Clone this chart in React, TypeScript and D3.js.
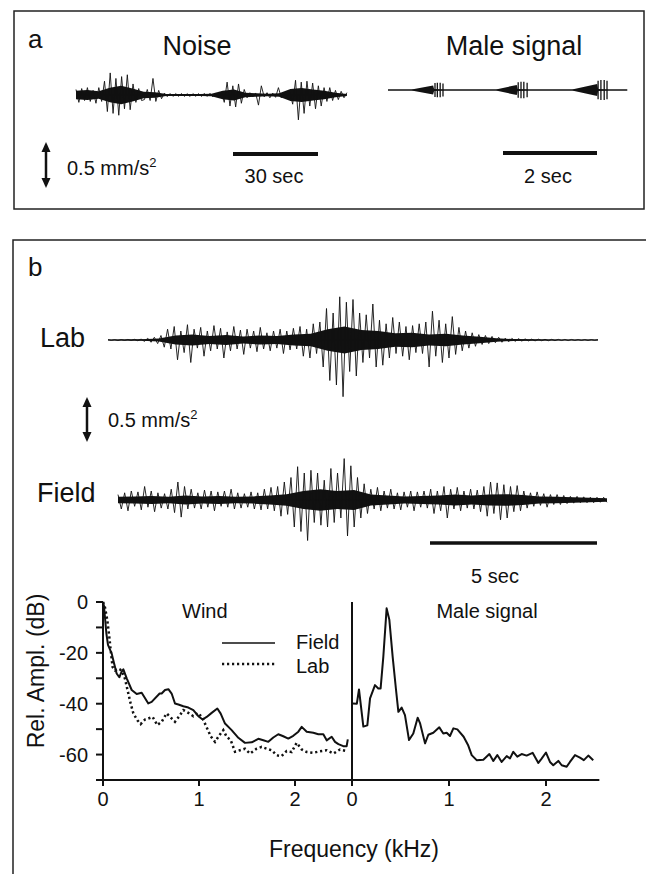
import React from "react";
import * as d3 from "d3";

const FONT = "'Liberation Sans', Arial, Helvetica, sans-serif";
const INK = "#111";

// ---------- Panel a: wind noise trace (mm/s^2, signed peaks, evenly spaced over duration) ----------
const noiseDuration = 95.6; // s
const noisePeaks = [
  0.06, -0.08, 0.07, -0.06, 0.08, -0.07, 0.05, -0.09, 0.08, -0.07,
  0.15, -0.18, 0.24, -0.2, 0.18, -0.22, 0.2, -0.15, 0.22, -0.16, 0.12,
  -0.08, 0.07, -0.06,
  -0.05, 0.06, -0.06, 0.18, -0.07, 0.05, -0.04,
  0.02, -0.018, 0.016, -0.015, 0.015, -0.014, 0.016, -0.015, 0.014, -0.016, 0.015, -0.014, 0.015, -0.016, 0.017, -0.015, 0.018, -0.02, 0.022, -0.025, 0.03,
  -0.08, 0.14, -0.12, 0.1, -0.13, 0.12, -0.09, 0.06,
  -0.03, 0.025, -0.02, 0.022, -0.11, 0.1, -0.02, 0.025, -0.03, 0.02, -0.025, 0.08, -0.03, 0.02, -0.025, 0.03,
  -0.1, 0.16, -0.27, 0.14, -0.2, 0.15, -0.12, 0.13, -0.15, 0.1, -0.12,
  0.08, -0.07, 0.08, -0.06, 0.05, -0.05, 0.04, -0.03, 0.025,
];
const noiseCore = [
  0.045, 0.055, 0.04, 0.08, 0.1, 0.07, 0.035, 0.03, 0.012, 0.01, 0.011, 0.01, 0.013,
  0.045, 0.06, 0.025, 0.018, 0.013, 0.02, 0.065, 0.075, 0.06, 0.045, 0.025, 0.012,
];

// ---------- Panel a: male signal (time s, half-amplitude mm/s^2) ----------
const maleDuration = 5.09;
const maleEnvelope: [number, number][] = [
  [0, 0.005], [0.5, 0.005], [0.53, 0.008], [0.96, 0.05], [0.98, 0.01], [1.2, 0.005],
  [2.3, 0.005], [2.32, 0.008], [2.74, 0.055], [2.76, 0.01], [3.0, 0.005],
  [3.92, 0.005], [3.94, 0.008], [4.45, 0.065], [4.47, 0.01], [4.7, 0.005], [5.09, 0.005],
];
const malePulses: [number, number][] = [
  [1.0, 0.075], [1.05, 0.08], [1.11, 0.08], [1.17, 0.07],
  [2.77, 0.085], [2.83, 0.09], [2.89, 0.09], [2.96, 0.08],
  [4.47, 0.1], [4.53, 0.11], [4.6, 0.11], [4.66, 0.1],
];

// ---------- Panel b: Lab and Field wind traces ----------
const labDuration = 14.67;
const labPeaks = [
  0.005, -0.005, 0.004, -0.006, 0.005, -0.005, 0.006, -0.005, 0.007, -0.008, 0.01,
  -0.015, 0.02, -0.025, 0.03, -0.04, 0.05,
  -0.08, 0.12, -0.1, 0.15, -0.22, 0.1, -0.14, 0.17, -0.25, 0.12, -0.09, 0.14, -0.18, 0.1, -0.12, 0.16,
  -0.1, 0.13, -0.2, 0.09, -0.12, 0.15, -0.1, 0.11, -0.16, 0.12, -0.09, 0.1, -0.13, 0.14, -0.1, 0.08,
  -0.12, 0.1, -0.09, 0.12, -0.15, 0.1, -0.11, 0.13, -0.1, 0.15, -0.18, 0.12, -0.2, 0.18, -0.15, 0.2,
  -0.3, 0.35, -0.45, 0.3, -0.5, 0.48, -0.63, 0.42, -0.35, 0.45, -0.4, 0.3,
  -0.25, 0.28, -0.2, 0.4, -0.3, 0.22, -0.28, 0.18, -0.2, 0.25, -0.15, 0.2, -0.18, 0.15, -0.22, 0.16, -0.14, 0.18,
  -0.15, 0.2, -0.3, 0.32, -0.18, 0.22, -0.25, 0.18, -0.2, 0.26, -0.16, 0.14,
  -0.12, 0.1, -0.09, 0.08, -0.07, 0.06, -0.05, 0.05, -0.04, 0.04, -0.03, 0.03,
  -0.025, 0.02, -0.02, 0.018, -0.015, 0.015, -0.012, 0.012, -0.01, 0.01, -0.01, 0.009, -0.008, 0.008, -0.008,
  0.007, -0.007, 0.007, -0.006, 0.006, -0.006, 0.006, -0.005, 0.005, -0.005, 0.005, -0.005, 0.005, -0.004, 0.004,
];
const labCore = [
  0.004, 0.005, 0.007, 0.018, 0.05, 0.06, 0.045, 0.055, 0.04, 0.05, 0.045, 0.06, 0.07, 0.12, 0.15,
  0.11, 0.1, 0.075, 0.08, 0.06, 0.07, 0.05, 0.035, 0.02, 0.01, 0.007, 0.005, 0.004, 0.004, 0.003,
];
const fieldDuration = 14.64;
const fieldPeaks = [
  0.06, -0.1, 0.08, -0.12, 0.1, -0.07, 0.09, -0.11, 0.15, -0.08, 0.1, -0.13, 0.08, -0.09, 0.07, -0.1,
  0.12, -0.14, 0.2, -0.19, 0.15, -0.1, 0.12, -0.09, 0.08, -0.1, 0.11, -0.08, 0.1, -0.12, 0.09, -0.07,
  0.1, -0.08, 0.12, -0.1, 0.08, -0.09, 0.07, -0.08, 0.09, -0.1, 0.08, -0.11, 0.12, -0.1, 0.14, -0.12,
  0.15, -0.18, 0.2, -0.16,
  0.25, -0.3, 0.37, -0.35, 0.3, -0.45, 0.33, -0.25, 0.3,
  -0.28, 0.22, -0.3, 0.35, -0.25, 0.3, -0.2, 0.46, -0.4, 0.38, -0.3, 0.25, -0.2, 0.18, -0.15,
  0.12, -0.1, 0.14, -0.12, 0.1, -0.09, 0.12, -0.1, 0.08, -0.11, 0.09, -0.08, 0.1, -0.12, 0.09, -0.08, 0.1, -0.09,
  0.12, -0.15, 0.1, -0.12, 0.15, -0.2, 0.12, -0.1, 0.14, -0.12, 0.1, -0.09, 0.12, -0.1, 0.11,
  -0.13, 0.15, -0.18, 0.2, -0.15, 0.19, -0.22, 0.17, -0.2, 0.15, -0.13, 0.16, -0.12, 0.1, -0.09,
  0.08, -0.07, 0.09, -0.06, 0.07, -0.08, 0.06, -0.05, 0.06, -0.05, 0.05, -0.04,
  0.04, -0.035, 0.04, -0.03, 0.035, -0.03, 0.03, -0.03, 0.03, -0.025, 0.03, -0.025,
];
const fieldCore = [
  0.035, 0.04, 0.045, 0.035, 0.05, 0.04, 0.045, 0.035, 0.04, 0.05, 0.065, 0.1, 0.12, 0.1, 0.11,
  0.06, 0.05, 0.04, 0.045, 0.05, 0.06, 0.05, 0.06, 0.065, 0.055, 0.04, 0.035, 0.03, 0.025, 0.02,
];

// ---------- Spectra (kHz, dB) ----------
const windField: [number, number][] = [
  [0, 0], [0.01, -1.5], [0.02, -5.8], [0.035, -12.3], [0.052, -16.9], [0.09, -20.2], [0.115, -24.1],
  [0.142, -28.1], [0.17, -29.6], [0.194, -27.4], [0.212, -26.5], [0.247, -30], [0.299, -34.6],
  [0.351, -36.2], [0.403, -35.7], [0.472, -39.9], [0.507, -39.3], [0.59, -36], [0.611, -36],
  [0.646, -34.6], [0.681, -34.3], [0.715, -36], [0.75, -39.9], [0.785, -40.3], [0.837, -41],
  [0.889, -41.5], [0.941, -42.5], [0.993, -44.9], [1.038, -46.2], [1.08, -45.2], [1.132, -43.6],
  [1.191, -41.9], [1.226, -43.9], [1.271, -47.8], [1.34, -50.4], [1.41, -53.4], [1.479, -55.4],
  [1.549, -55.2], [1.618, -53.8], [1.67, -54.4], [1.722, -55], [1.774, -53.3], [1.826, -52],
  [1.878, -52.8], [1.93, -53.7], [1.982, -52.6], [2.035, -51], [2.07, -49.1], [2.122, -51],
  [2.191, -51.4], [2.243, -52], [2.295, -52], [2.33, -54.4], [2.382, -53], [2.417, -55],
  [2.452, -55.9], [2.503, -56.7], [2.538, -56.7], [2.55, -54],
];
const windLab: [number, number][] = [
  [0, 0], [0.02, -2], [0.045, -7.2], [0.066, -13.8], [0.08, -19], [0.1, -25.6], [0.125, -26.9],
  [0.16, -26.2], [0.194, -26.9], [0.229, -30.2], [0.264, -36], [0.288, -39.9], [0.316, -43.8],
  [0.358, -46.5], [0.392, -48], [0.437, -46.2], [0.472, -45.8], [0.517, -45.2], [0.566, -48.4],
  [0.611, -47.1], [0.663, -43.8], [0.715, -45.8], [0.75, -47.1], [0.795, -44.9], [0.837, -42.5],
  [0.889, -43.6], [0.941, -44.9], [0.993, -43.6], [1.038, -45.8], [1.08, -49.3], [1.122, -52.8],
  [1.167, -55], [1.212, -52.4], [1.253, -50.4], [1.288, -53], [1.33, -54.3], [1.375, -58.9],
  [1.427, -58.3], [1.479, -57.7], [1.531, -59.6], [1.6, -57.7], [1.653, -57], [1.705, -57.7],
  [1.757, -58.3], [1.809, -60.3], [1.861, -60.6], [1.913, -58.6], [1.965, -59], [2.017, -55.4],
  [2.07, -58], [2.122, -59], [2.191, -59.3], [2.26, -58.7], [2.33, -58.3], [2.4, -59.6],
  [2.469, -58], [2.538, -58.6],
];
const maleSpectrum: [number, number][] = [
  [0.007, -39.9], [0.05, -40], [0.072, -34.4], [0.117, -49], [0.158, -48.5], [0.186, -37.9],
  [0.237, -32.7], [0.271, -34], [0.295, -34], [0.323, -21.5], [0.357, -2.5], [0.385, -7],
  [0.419, -21.5], [0.454, -34.6], [0.478, -43.2], [0.512, -41.5], [0.546, -44.5], [0.588, -54.3],
  [0.632, -51.7], [0.677, -45.5], [0.701, -47.6], [0.753, -55.6], [0.787, -52.2], [0.838, -51.4],
  [0.9, -49.3], [0.941, -51.7], [0.976, -51.4], [1.01, -52.7], [1.045, -49.7], [1.086, -50.1],
  [1.151, -53], [1.196, -56.2], [1.234, -60.2], [1.285, -62.2], [1.354, -62], [1.416, -59.8],
  [1.457, -62.5], [1.498, -60.2], [1.543, -62.9], [1.595, -60.6], [1.629, -61.5], [1.663, -58.9],
  [1.704, -60.8], [1.749, -59.8], [1.8, -60.4], [1.862, -59.3], [1.921, -63.3], [1.955, -61.6],
  [2.0, -59.2], [2.041, -62.9], [2.075, -64.2], [2.127, -62.5], [2.162, -64.2], [2.213, -64.8],
  [2.247, -62.9], [2.299, -60.2], [2.35, -61.2], [2.39, -62.2], [2.436, -60.4], [2.487, -62.2],
];
const dbTickLabels = [0, -20, -40, -60];
const dbTicks = [0, -10, -20, -30, -40, -50, -60, -70];
const khzTicks = [0, 1, 2];

// ---------- helpers ----------
type TraceProps = {
  peaks: number[]; core: number[]; duration: number;
  x0: number; pxPerSec: number; yc: number; pxPerUnit: number;
};
function Trace({ peaks, core, duration, x0, pxPerSec, yc, pxPerUnit }: TraceProps) {
  const xs = d3.scaleLinear().domain([0, 1]).range([x0, x0 + pxPerSec]);
  const ya = d3.scaleLinear().domain([-1, 1]).range([yc + pxPerUnit, yc - pxPerUnit]);
  const pStep = duration / (peaks.length - 1);
  const cStep = duration / (core.length - 1);
  const zig = d3.line<number>().x((_, i) => xs(i * pStep)).y((d) => ya(d))(peaks) || "";
  const area = d3.area<number>()
    .x((_, i) => xs(i * cStep))
    .y0((d) => ya(-d)).y1((d) => ya(d))
    .curve(d3.curveLinear)(core) || "";
  return (
    <g>
      <path d={area} fill={INK} />
      <line x1={xs(0)} x2={xs(duration)} y1={yc} y2={yc} stroke={INK} strokeWidth={1.2} />
      <path d={zig} fill="none" stroke={INK} strokeWidth={0.9} strokeLinejoin="miter" />
    </g>
  );
}

function DoubleArrow({ x, yc, len }: { x: number; yc: number; len: number }) {
  const y1 = yc - len / 2, y2 = yc + len / 2, h = 10, w = 4.5;
  return (
    <g fill={INK}>
      <line x1={x} x2={x} y1={y1 + h - 1} y2={y2 - h + 1} stroke={INK} strokeWidth={2.5} />
      <path d={`M${x},${y1} L${x - w},${y1 + h} L${x + w},${y1 + h} Z`} />
      <path d={`M${x},${y2} L${x - w},${y2 - h} L${x + w},${y2 - h} Z`} />
    </g>
  );
}

function Unit({ x, y }: { x: number; y: number }) {
  return (
    <text x={x} y={y} fontSize={20} fontFamily={FONT} fill={INK}>
      0.5 mm/s<tspan dy={-8} fontSize={13}>2</tspan>
    </text>
  );
}

export default function App() {
  const noisePx = 85 / 30; // px per s
  const malePx = 94 / 2;
  const ampA = 92; // px per mm/s^2
  const ampB = 90;
  const labPx = 167 / 5;

  const maleX = d3.scaleLinear().domain([0, 1]).range([388, 388 + malePx]);
  const maleY = d3.scaleLinear().domain([-1, 1]).range([90 + ampA, 90 - ampA]);
  const maleArea = d3.area<[number, number]>()
    .x((d) => maleX(d[0])).y0((d) => maleY(-d[1])).y1((d) => maleY(d[1]))(maleEnvelope) || "";

  const yDb = d3.scaleLinear().domain([-70, 0]).range([780, 602]);
  const xL = d3.scaleLinear().domain([0, 1]).range([103, 199]);
  const xR = d3.scaleLinear().domain([0, 1]).range([352, 449]);
  const lineL = d3.line<[number, number]>().x((d) => xL(d[0])).y((d) => yDb(d[1]));
  const lineR = d3.line<[number, number]>().x((d) => xR(d[0])).y((d) => yDb(d[1]));

  const txt = (x: number, y: number, s: string, size: number, anchor = "start") => (
    <text x={x} y={y} fontSize={size} fontFamily={FONT} fill={INK} textAnchor={anchor}>{s}</text>
  );

  return (
    <svg width={646} height={874} style={{ position: "absolute", left: 0, top: 0, display: "block", background: "#fff" }}>
      <rect x={0} y={0} width={646} height={874} fill="#fff" />
      {/* Panel a */}
      <rect x={14} y={11} width={630} height={198} fill="none" stroke="#222" strokeWidth={1.5} />
      {txt(28, 48, "a", 26)}
      {txt(197, 55, "Noise", 27, "middle")}
      {txt(514, 55, "Male signal", 27, "middle")}
      <Trace peaks={noisePeaks} core={noiseCore} duration={noiseDuration}
        x0={76} pxPerSec={noisePx} yc={95} pxPerUnit={ampA} />
      <g>
        <line x1={maleX(0)} x2={maleX(maleDuration)} y1={90} y2={90} stroke={INK} strokeWidth={1} />
        <path d={maleArea} fill={INK} />
        {malePulses.map(([t, a], i) => (
          <line key={i} x1={maleX(t)} x2={maleX(t)} y1={maleY(-a)} y2={maleY(a)} stroke={INK} strokeWidth={1.3} />
        ))}
      </g>
      <DoubleArrow x={46} yc={165} len={0.5 * ampA} />
      <Unit x={67} y={175} />
      <line x1={233} x2={233 + 30 * noisePx} y1={154} y2={154} stroke={INK} strokeWidth={4} />
      {txt(274, 183, "30 sec", 20, "middle")}
      <line x1={503} x2={503 + 2 * malePx} y1={153} y2={153} stroke={INK} strokeWidth={4} />
      {txt(548, 183, "2 sec", 20, "middle")}

      {/* Panel b */}
      <path d="M13,880 L13,240 L646,240" fill="none" stroke="#222" strokeWidth={1.5} />
      {txt(28, 276, "b", 26)}
      {txt(40, 347, "Lab", 27)}
      <Trace peaks={labPeaks} core={labCore} duration={labDuration}
        x0={108} pxPerSec={labPx} yc={340} pxPerUnit={ampB} />
      <DoubleArrow x={87} yc={419.5} len={0.5 * ampB} />
      <Unit x={108} y={427} />
      {txt(37, 502, "Field", 27)}
      <Trace peaks={fieldPeaks} core={fieldCore} duration={fieldDuration}
        x0={118} pxPerSec={labPx} yc={500} pxPerUnit={ampB} />
      <line x1={430} x2={430 + 5 * labPx} y1={543} y2={543} stroke={INK} strokeWidth={3.5} />
      {txt(495, 583, "5 sec", 20, "middle")}

      {/* Spectra axes */}
      <g stroke={INK} strokeWidth={2}>
        <line x1={xL(0)} x2={xL(0)} y1={yDb(0)} y2={yDb(-70) + 6} />
        <line x1={xL(0)} x2={xR(0)} y1={yDb(-70)} y2={yDb(-70)} />
        <line x1={xR(0)} x2={xR(0)} y1={yDb(0)} y2={yDb(-70) + 6} />
        <line x1={xR(0)} x2={xR(2.55)} y1={yDb(-70)} y2={yDb(-70)} />
        {dbTicks.map((d) => (
          <line key={d} x1={xL(0) - 7} x2={xL(0)} y1={yDb(d)} y2={yDb(d)} />
        ))}
        {khzTicks.map((k) => (
          <line key={"l" + k} x1={xL(k)} x2={xL(k)} y1={yDb(-70)} y2={yDb(-70) + 6} />
        ))}
        {khzTicks.map((k) => (
          <line key={"r" + k} x1={xR(k)} x2={xR(k)} y1={yDb(-70)} y2={yDb(-70) + 6} />
        ))}
      </g>
      {dbTickLabels.map((d) => (
        <text key={d} x={88} y={yDb(d)} dy="0.35em" fontSize={20} fontFamily={FONT} fill={INK} textAnchor="end">{String(d)}</text>
      ))}
      {khzTicks.map((k) => (
        <text key={"tl" + k} x={xL(k)} y={806} fontSize={20} fontFamily={FONT} fill={INK} textAnchor="middle">{String(k)}</text>
      ))}
      {khzTicks.map((k) => (
        <text key={"tr" + k} x={xR(k)} y={806} fontSize={20} fontFamily={FONT} fill={INK} textAnchor="middle">{String(k)}</text>
      ))}
      <text transform="translate(44,671) rotate(-90)" fontSize={23} fontFamily={FONT} fill={INK} textAnchor="middle">Rel. Ampl. (dB)</text>
      {txt(354, 857, "Frequency (kHz)", 23, "middle")}

      <path d={lineL(windField) || ""} fill="none" stroke={INK} strokeWidth={2} strokeLinejoin="round" />
      <path d={lineL(windLab) || ""} fill="none" stroke={INK} strokeWidth={2.5} strokeDasharray="2.2,2.8" />
      <path d={lineR(maleSpectrum) || ""} fill="none" stroke={INK} strokeWidth={2} strokeLinejoin="round" />

      {txt(182, 618, "Wind", 20)}
      <line x1={222} x2={275} y1={643} y2={643} stroke={INK} strokeWidth={1.5} />
      <line x1={222} x2={275} y1={664} y2={664} stroke={INK} strokeWidth={2.5} strokeDasharray="2.2,2.8" />
      {txt(296, 649, "Field", 20)}
      {txt(296, 673, "Lab", 20)}
      {txt(487, 618, "Male signal", 20, "middle")}
    </svg>
  );
}
